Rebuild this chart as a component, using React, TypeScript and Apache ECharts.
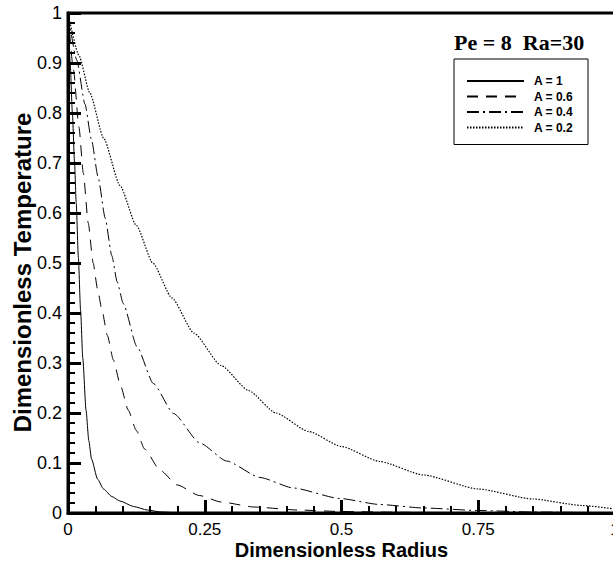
import React, { useEffect, useRef } from "react";
import * as echarts from "echarts";

const seriesNames = ["A = 1", "A = 0.6", "A = 0.4", "A = 0.2"];

const xA1 = [0, 0.004, 0.008, 0.012, 0.015, 0.019, 0.023, 0.027, 0.033, 0.038, 0.043, 0.054, 0.065, 0.08, 0.095, 0.12, 0.145, 0.17, 0.2, 0.3, 1];
const yA1 = [1, 0.9, 0.8, 0.7, 0.62, 0.51, 0.405, 0.31, 0.205, 0.145, 0.108, 0.068, 0.048, 0.033, 0.024, 0.013, 0.006, 0.002, 0.0005, 0, 0];

const xA06 = [0, 0.01, 0.02, 0.028, 0.037, 0.046, 0.054, 0.062, 0.072, 0.083, 0.096, 0.11, 0.125, 0.14, 0.168, 0.2, 0.24, 0.28, 0.34, 0.42, 0.5, 0.6, 0.7, 0.8, 1];
const yA06 = [1, 0.886, 0.772, 0.68, 0.58, 0.5, 0.448, 0.406, 0.355, 0.306, 0.255, 0.206, 0.165, 0.128, 0.086, 0.056, 0.035, 0.022, 0.012, 0.006, 0.003, 0.0015, 0.0008, 0.0003, 0];

const xA04 = [0, 0.016, 0.031, 0.043, 0.055, 0.068, 0.08, 0.09, 0.101, 0.126, 0.156, 0.193, 0.241, 0.29, 0.351, 0.412, 0.497, 0.57, 0.65, 0.75, 0.85, 1];
const yA04 = [1, 0.906, 0.818, 0.746, 0.672, 0.59, 0.515, 0.462, 0.419, 0.333, 0.259, 0.199, 0.14, 0.104, 0.071, 0.05, 0.029, 0.017, 0.01, 0.005, 0.002, 0];

const xA02 = [0, 0.02, 0.04, 0.065, 0.095, 0.125, 0.155, 0.19, 0.23, 0.28, 0.33, 0.38, 0.44, 0.5, 0.57, 0.65, 0.75, 0.85, 0.94, 1];
const yA02 = [1, 0.915, 0.84, 0.75, 0.655, 0.575, 0.5, 0.43, 0.36, 0.295, 0.245, 0.2, 0.163, 0.133, 0.103, 0.076, 0.048, 0.028, 0.015, 0.008];

const xTicks = [0, 0.25, 0.5, 0.75, 1];
const yTicks = [0, 0.1, 0.2, 0.3, 0.4, 0.5, 0.6, 0.7, 0.8, 0.9, 1];

const zip = (xs: number[], ys: number[]) => xs.map((x, i) => [x, ys[i]]);

export default function App() {
  const ref = useRef<HTMLDivElement>(null);
  useEffect(() => {
    document.body.style.margin = "0";
    const chart = echarts.init(ref.current!, null, { renderer: "svg" });
    const sans = "Liberation Sans, Arial, sans-serif";
    const lineTypes: any[] = ["solid", [11, 8], [12, 4, 2, 4], [1.5, 1.5]];
    const datasets = [zip(xA1, yA1), zip(xA06, yA06), zip(xA04, yA04), zip(xA02, yA02)];
    const axisCommon = {
      axisLine: { show: true, onZero: false, lineStyle: { color: "#000", width: 3 } },
      axisTick: { show: true, inside: true, length: 13, lineStyle: { color: "#000", width: 3 } },
      minorTick: { show: true, splitNumber: 5, length: 7, lineStyle: { color: "#000", width: 2 } },
      splitLine: { show: false },
      minorSplitLine: { show: false },
    };
    chart.setOption({
      animation: false,
      backgroundColor: "#fff",
      title: {
        text: "Pe = 8\u00a0 Ra=30",
        left: 454,
        top: 31,
        padding: 0,
        textStyle: { fontFamily: "Liberation Serif, Times New Roman, serif", fontWeight: "bold", fontSize: 22, color: "#000" },
      },
      legend: {
        orient: "vertical",
        left: 454,
        top: 59,
        padding: [16, 15, 11, 12],
        itemWidth: 57,
        itemHeight: 12,
        itemGap: 3.5,
        borderColor: "#000",
        borderWidth: 1,
        data: seriesNames,
        itemStyle: { color: "transparent", borderWidth: 0, opacity: 0 },
        textStyle: { fontFamily: sans, fontWeight: "bold", fontSize: 12, color: "#000", padding: [0, 0, 0, 5] },
      },
      grid: {
        left: 68,
        top: 13,
        width: 547,
        height: 500,
        outerBoundsMode: "none",
        containLabel: false,
        show: true,
        borderColor: "#000",
        borderWidth: 3,
        backgroundColor: "transparent",
      },
      xAxis: {
        type: "value",
        min: xTicks[0],
        max: xTicks[xTicks.length - 1],
        interval: 0.25,
        ...axisCommon,
        axisLabel: { color: "#000", fontFamily: sans, fontSize: 17, lineHeight: 12, margin: 10 },
        name: "Dimensionless Radius",
        nameLocation: "middle",
        nameGap: 26.5,
        nameMoveOverlap: false,
        nameTextStyle: { fontFamily: sans, fontWeight: "bold", fontSize: 20, lineHeight: 20, color: "#000" },
      },
      yAxis: {
        type: "value",
        min: yTicks[0],
        max: yTicks[yTicks.length - 1],
        interval: 0.1,
        ...axisCommon,
        axisLabel: { color: "#000", fontFamily: sans, fontSize: 18, margin: 6 },
        name: "Dimensionless Temperature",
        nameLocation: "middle",
        nameGap: 34,
        nameMoveOverlap: false,
        nameTextStyle: { fontFamily: sans, fontWeight: "bold", fontSize: 24, color: "#000", padding: [0, 19, 0, 0] },
      },
      series: seriesNames.map((name, i) => ({
        name,
        type: "line",
        data: datasets[i],
        symbol: "none",
        showSymbol: false,
        smooth: 0.2,
        smoothMonotone: "x",
        lineStyle: { color: "#000", width: i === 3 ? 1.2 : 1, type: lineTypes[i] },
        itemStyle: { color: "#000" },
      })),
    });
    return () => chart.dispose();
  }, []);
  return <div ref={ref} style={{ width: 613, height: 561, position: "absolute", left: 0, top: 0 }} />;
}
